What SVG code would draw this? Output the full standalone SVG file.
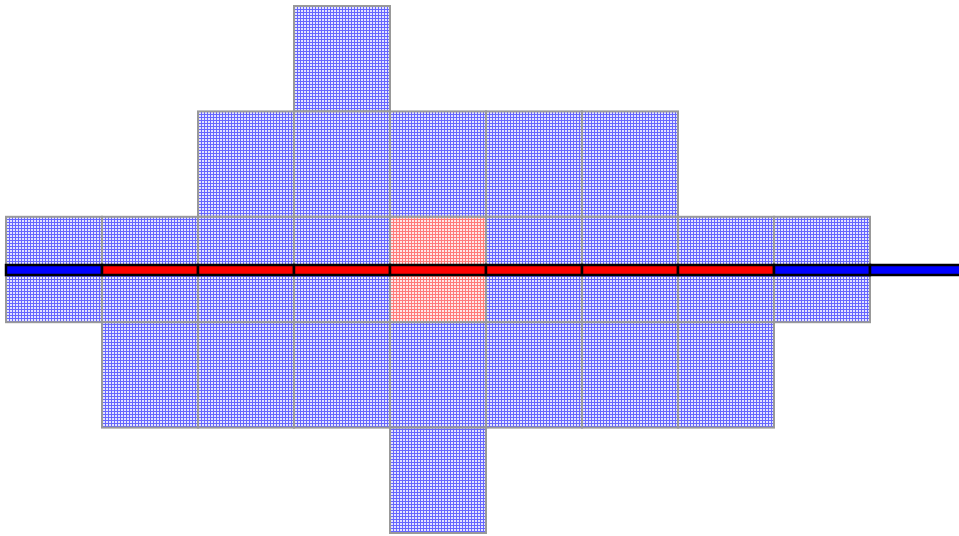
<svg xmlns="http://www.w3.org/2000/svg" width="959" height="536" viewBox="0 0 959 536">
  <defs>
    <pattern id="pb" patternUnits="userSpaceOnUse" width="3" height="3">
      <rect width="3" height="3" fill="#e4e4ff"/>
      <rect x="0" y="0" width="1" height="3" fill="#6666ff"/>
      <rect x="0" y="0" width="3" height="1" fill="#6666ff"/>
    </pattern>
    <pattern id="pr" patternUnits="userSpaceOnUse" width="3" height="3">
      <rect width="3" height="3" fill="#ffe8e8"/>
      <rect x="0" y="0" width="1" height="3" fill="#ff7a7a"/>
      <rect x="0" y="0" width="3" height="1" fill="#ff7a7a"/>
    </pattern>
    <style>
      .t { fill: url(#pb); stroke: #999999; stroke-width: 2; }
      .tr { fill: url(#pr); stroke: #999999; stroke-width: 2; }
      .sb { fill: #0000ff; stroke: #000; stroke-width: 2.5; }
      .sr { fill: #ff0000; stroke: #000; stroke-width: 2.5; }
    </style>
  </defs>
  <g id="tiles">
    <g id="r0"><rect class="t" x="294" y="6" width="96" height="105.4"/></g>
    <g id="r1">
      <rect class="t" x="198" y="111.4" width="96" height="105.4"/>
      <rect class="t" x="294" y="111.4" width="96" height="105.4"/>
      <rect class="t" x="390" y="111.4" width="96" height="105.4"/>
      <rect class="t" x="486" y="111.4" width="96" height="105.4"/>
      <rect class="t" x="582" y="111.4" width="96" height="105.4"/>
    </g>
    <g id="r2">
      <rect class="t" x="6" y="216.8" width="96" height="105.4"/>
      <rect class="t" x="102" y="216.8" width="96" height="105.4"/>
      <rect class="t" x="198" y="216.8" width="96" height="105.4"/>
      <rect class="t" x="294" y="216.8" width="96" height="105.4"/>
      <rect class="tr" x="390" y="216.8" width="96" height="105.4"/>
      <rect class="t" x="486" y="216.8" width="96" height="105.4"/>
      <rect class="t" x="582" y="216.8" width="96" height="105.4"/>
      <rect class="t" x="678" y="216.8" width="96" height="105.4"/>
      <rect class="t" x="774" y="216.8" width="96" height="105.4"/>
    </g>
    <g id="r3">
      <rect class="t" x="102" y="322.2" width="96" height="105.4"/>
      <rect class="t" x="198" y="322.2" width="96" height="105.4"/>
      <rect class="t" x="294" y="322.2" width="96" height="105.4"/>
      <rect class="t" x="390" y="322.2" width="96" height="105.4"/>
      <rect class="t" x="486" y="322.2" width="96" height="105.4"/>
      <rect class="t" x="582" y="322.2" width="96" height="105.4"/>
      <rect class="t" x="678" y="322.2" width="96" height="105.4"/>
    </g>
    <g id="r4"><rect class="t" x="390" y="427.6" width="96" height="105.4"/></g>
  </g>
  <g id="bar">
    <rect class="sb" x="6" y="265" width="96" height="10"/>
    <rect class="sr" x="102" y="265" width="96" height="10"/>
    <rect class="sr" x="198" y="265" width="96" height="10"/>
    <rect class="sr" x="294" y="265" width="96" height="10"/>
    <rect class="sr" x="390" y="265" width="96" height="10"/>
    <rect class="sr" x="486" y="265" width="96" height="10"/>
    <rect class="sr" x="582" y="265" width="96" height="10"/>
    <rect class="sr" x="678" y="265" width="96" height="10"/>
    <rect class="sb" x="774" y="265" width="96" height="10"/>
    <rect class="sb" x="870" y="265" width="96" height="10"/>
  </g>
</svg>
